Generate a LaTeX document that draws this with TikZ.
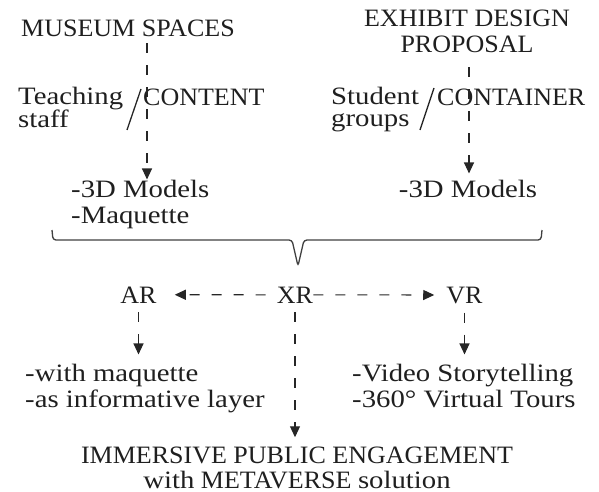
\documentclass[tikz,border=0pt]{standalone}
\usepackage{fontspec}
\setmainfont{Liberation Serif}[FakeStretch=1.04]
\newfontfamily\lowfont{Liberation Serif}[FakeStretch=1.15]
\usetikzlibrary{arrows.meta}

\tikzset{
  txt/.style={inner sep=0pt, text=black!88, font=\fontsize{25}{26}\selectfont},
  low/.style={font=\lowfont\fontsize{25}{26}\selectfont},
  link/.style={draw=black!85, line width=1.1pt, dash pattern=on 10pt off 12pt,
    -{Triangle[length=11pt,width=10pt]}},
  slash/.style={draw=black!85, line width=1.3pt},
}

\begin{document}
\begin{tikzpicture}[x=1pt, y=-1pt]
    \useasboundingbox (0,0) rectangle (599,492);
    % two starting points
    \node[txt, anchor=base] (museum) at (128,37) {MUSEUM SPACES};
    \node[txt, anchor=base, align=center] (exhibit) at (467,53) {EXHIBIT DESIGN\\PROPOSAL};
    \coordinate (lcol) at (147,0);
    \coordinate (rcol) at (469,0);

    % who brings what
    \node[txt, anchor=base west, align=left, font=\lowfont\fontsize{25}{22}\selectfont] (teach) at (18,128) {Teaching\\staff};
    \node[txt, anchor=base west] (content) at (143,106) {CONTENT};
    \draw[slash] (127,130) -- (141,89);
    \node[txt, anchor=base west, align=left, font=\lowfont\fontsize{25}{22}\selectfont] (student) at (331,127) {Student\\groups};
    \node[txt, anchor=base west] (container) at (437,106) {CONTAINER};
    \draw[slash] (420,130) -- (434,88);

    % outputs
    \node[txt, low, anchor=base west, align=left] (lmodels) at (71,223) {-3D Models\\-Maquette};
    \node[txt, low, anchor=base] (rmodels) at (468,197) {-3D Models};
    \draw[link] (museum.south -| lcol) ++(0,6) -- (lmodels.north -| lcol) ;
    \draw[link, shorten >=6pt] (exhibit.south -| rcol) ++(0,14) -- (rmodels.north -| rcol);

    % brace
    \draw[black!75, line width=1.3pt, rounded corners=3pt]
        (52,230) -- (53,240) -- (292,240) -- (298,266) -- (304,240) -- (541,240) -- (542,230);

    % XR branches
    \node[txt, anchor=base] (xr) at (295,303) {XR};
    \node[txt, anchor=base] (ar) at (138.5,303) {AR};
    \node[txt, anchor=base] (vr) at (464.5,303) {VR};
    \draw[link, shorten <=11pt, shorten >=18pt] (xr.west) -- (ar.east);
    \draw[link, shorten >=12pt] (xr.east) -- (vr.west);

    \node[txt, low, anchor=base west, align=left] (armore) at (25,407) {-with maquette\\-as informative layer};
    \node[txt, low, anchor=base west, align=left] (vrmore) at (352,407) {-Video Storytelling\\-360° Virtual Tours};
    \node[txt, anchor=base, align=center, font=\fontsize{25}{25}\selectfont] (engage) at (297,488) {IMMERSIVE PUBLIC ENGAGEMENT\\{\lowfont with} METAVERSE {\lowfont solution}};

    \draw[link, shorten <=9pt, shorten >=9pt] (ar.south) -- (ar.south |- armore.north);
    \draw[link, shorten <=9pt, shorten >=9pt] (vr.south) -- (vr.south |- vrmore.north);
    \draw[link, shorten <=9pt, shorten >=9pt] (xr.south) -- (xr.south |- engage.north);
\end{tikzpicture}
\end{document}
